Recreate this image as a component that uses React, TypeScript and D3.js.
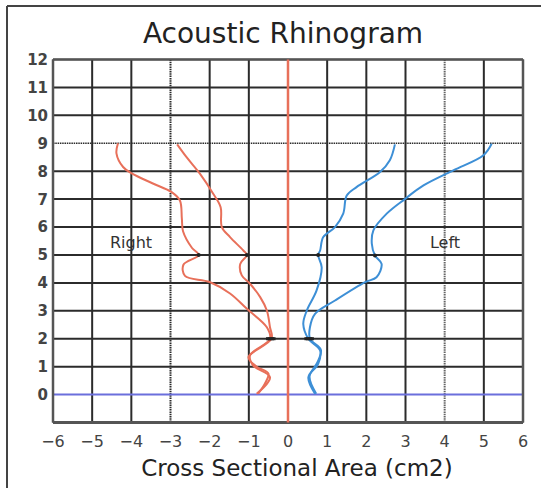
import React from 'react';
import * as d3 from 'd3';

type Pt = [number, number];

// cross sectional area (cm2), distance (cm)
const rightOuter: Pt[] = [
  [-4.34, 9], [-4.38, 8.64], [-4.21, 8.15], [-3.99, 7.92], [-3.45, 7.56], [-2.97, 7.25],
  [-2.76, 6.95], [-2.71, 6.3], [-2.68, 5.85], [-2.45, 5.25], [-2.28, 5.0], [-2.67, 4.65],
  [-2.63, 4.25], [-2.0, 4.03], [-1.48, 3.62], [-1.05, 3.07], [-0.54, 2.41], [-0.46, 2.0],
  [-0.97, 1.4], [-0.89, 1.04], [-0.46, 0.62], [-0.8, 0.03],
];
const rightInner: Pt[] = [
  [-2.83, 8.96], [-2.59, 8.5], [-2.25, 7.91], [-1.91, 7.19], [-1.72, 6.71], [-1.69, 6.0],
  [-1.48, 5.64], [-1.14, 5.16], [-1.05, 5.0], [-1.22, 4.68], [-1.18, 4.27], [-0.97, 3.97],
  [-0.71, 3.49], [-0.54, 3.01], [-0.46, 2.41], [-0.42, 2.0], [-1.01, 1.34], [-0.8, 1.0],
  [-0.5, 0.75], [-0.76, 0.03],
];
const leftInner: Pt[] = [
  [2.73, 8.96], [2.6, 8.39], [2.35, 7.97], [1.75, 7.43], [1.5, 7.13], [1.41, 6.48],
  [1.2, 6.0], [0.9, 5.64], [0.82, 5.16], [0.77, 5.0], [0.86, 4.56], [0.73, 3.73],
  [0.48, 3.01], [0.39, 2.53], [0.52, 2.0], [0.82, 1.58], [0.77, 1.1], [0.52, 0.62], [0.69, 0.03],
];
const leftOuter: Pt[] = [
  [5.2, 8.98], [4.99, 8.57], [4.22, 8.03], [3.46, 7.49], [2.99, 7.01], [2.52, 6.48],
  [2.18, 5.88], [2.14, 5.4], [2.22, 4.98], [2.39, 4.68], [2.26, 4.2], [1.97, 4.03],
  [1.2, 3.37], [0.69, 2.89], [0.56, 2.41], [0.56, 2.0], [0.84, 1.6], [0.75, 1.15],
  [0.55, 0.65], [0.72, 0.03],
];
const markerDistances = [5, 2];

const xTicks = d3.range(-6, 7);
const yTicks = d3.range(0, 13);
const dottedX = [-3, 4];
const dottedY = [9];

const W = 541;
const H = 488;
const RED = '#e8705a';
const BLUE = '#3d8fd6';
const GRID = '#2b2b2b';

export default function App() {
  const x = d3.scaleLinear().domain([-6, 6]).range([53, 523]);
  const y = d3.scaleLinear().domain([-1, 12]).range([422.5, 59.5]);
  const line = d3.line<Pt>().x(d => x(d[0])).y(d => y(d[1])).curve(d3.curveCatmullRom.alpha(0.5));

  const markerAt = (pts: Pt[], dist: number) => {
    let best = pts[0];
    pts.forEach(p => { if (Math.abs(p[1] - dist) < Math.abs(best[1] - dist)) best = p; });
    return best;
  };

  const curves = [
    { pts: rightOuter, color: RED },
    { pts: rightInner, color: RED },
    { pts: leftInner, color: BLUE },
    { pts: leftOuter, color: BLUE },
  ];

  const font = '"DejaVu Sans", Verdana, sans-serif';

  return (
    <div style={{ position: 'absolute', left: 0, top: 0 }}>
      <svg width={W} height={H} style={{ display: 'block', background: '#fff' }}>
        {/* outer frame */}
        <line x1={7} y1={6} x2={W} y2={6} stroke="#444" strokeWidth={2} />
        <line x1={7} y1={6} x2={7} y2={H} stroke="#444" strokeWidth={2} />

        <text x={283} y={43} textAnchor="middle" fontFamily={font} fontSize={28} fill="#222">
          Acoustic Rhinogram
        </text>

        {/* grid */}
        {xTicks.map(t => (
          <line key={'gx' + t} x1={x(t)} x2={x(t)} y1={y(12)} y2={y(-1)}
            stroke={t === 0 ? 'none' : t === 4 ? '#666' : GRID}
            strokeWidth={2}
            strokeDasharray={dottedX.includes(t) ? '1.5,0.8' : undefined} />
        ))}
        {yTicks.map(t => (
          <line key={'gy' + t} x1={x(-6)} x2={x(6)} y1={y(t)} y2={y(t)}
            stroke={t === 0 ? '#6b6fdc' : GRID}
            strokeWidth={t === 0 ? 2 : dottedY.includes(t) ? 1.5 : 2}
            strokeDasharray={dottedY.includes(t) ? '1.5,0.8' : undefined} />
        ))}
        {/* plot borders */}
        <line x1={x(-6)} x2={x(6)} y1={y(-1)} y2={y(-1)} stroke="#555" strokeWidth={3} />
        <line x1={x(-6)} x2={x(-6)} y1={y(12)} y2={y(-1)} stroke="#555" strokeWidth={2.5} />
        <line x1={x(6)} x2={x(6)} y1={y(12)} y2={y(-1)} stroke="#555" strokeWidth={2.5} />
        <line x1={x(-6)} x2={x(6)} y1={y(12)} y2={y(12)} stroke="#555" strokeWidth={2} />
        <line x1={x(0)} x2={x(0)} y1={y(12)} y2={y(-1)} stroke={RED} strokeWidth={2.5} />

        {/* tick labels */}
        {yTicks.map(t => (
          <text key={'ly' + t} x={48} y={y(t)} dy="0.36em" textAnchor="end"
            fontFamily={font} fontSize={15} fontWeight={700} fill="#444">{t}</text>
        ))}
        {xTicks.map(t => (
          <text key={'lx' + t} x={x(t)} y={441} dy="0.36em" textAnchor="middle"
            fontFamily={font} fontSize={16} fill="#444">{t < 0 ? '\u2212' + Math.abs(t) : t}</text>
        ))}

        {/* curves */}
        {curves.map((c, i) => (
          <path key={'c' + i} d={line(c.pts) || ''} fill="none" stroke={c.color} strokeWidth={2} />
        ))}
        {curves.map((c, i) => markerDistances.map(dist => {
          const p = markerAt(c.pts, dist);
          return dist === 2
            ? <rect key={'m' + i + dist} x={x(p[0]) - 4} y={y(p[1]) - 1.5} width={8} height={3} fill="#222" />
            : <circle key={'m' + i + dist} cx={x(p[0])} cy={y(p[1])} r={2} fill="#222" />;
        }))}

        <text x={131} y={248} textAnchor="middle" fontFamily={font} fontSize={16} fill="#333">Right</text>
        <text x={445} y={248} textAnchor="middle" fontFamily={font} fontSize={16} fill="#333">Left</text>

        <text x={297} y={476} textAnchor="middle" fontFamily={font} fontSize={23} fill="#222">
          Cross Sectional Area (cm2)
        </text>
      </svg>
    </div>
  );
}
